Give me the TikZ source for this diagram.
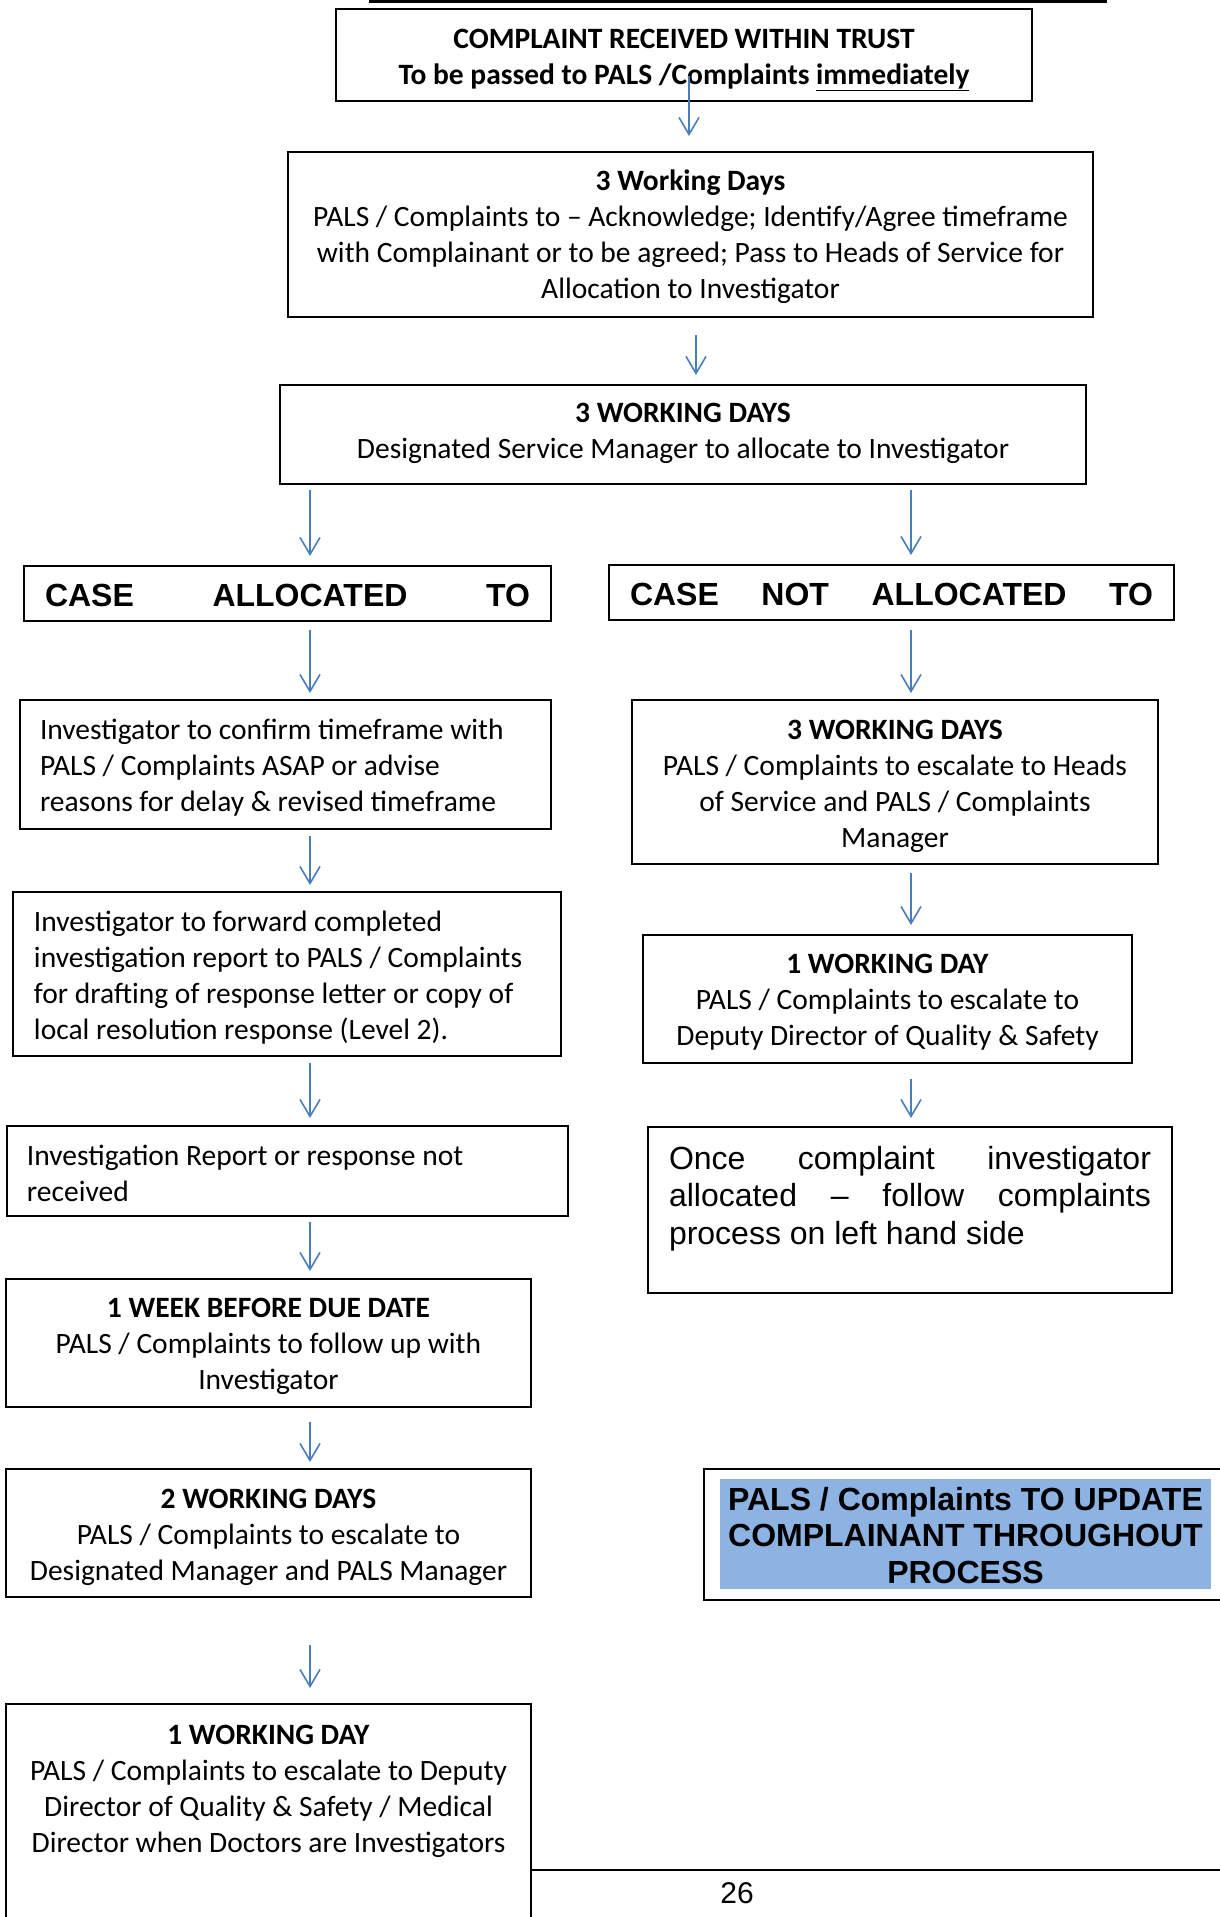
\documentclass[tikz,border=0pt]{standalone}
\usepackage{fontspec}
\setmainfont{Carlito}
\newfontfamily\arialfont{Liberation Sans}
\usetikzlibrary{positioning, calc, arrows.meta}
\newcommand{\calfont}{\fontsize{29.5}{36.3}\selectfont}
\newcommand{\arialbig}{\arialfont\fontsize{32}{36.8}\selectfont}
\definecolor{arrowblue}{HTML}{4A7EBB}
\definecolor{updblue}{HTML}{8DB3E2}
\tikzset{flowtip/.tip={Straight Barb[length=17pt, width=20pt]}}

\begin{document}
\begin{tikzpicture}[
    x=1pt, y=-1pt,
    stage/.style={
        draw, line width=1.6pt, anchor=north west,
        inner ysep=0pt, inner xsep=10pt, outer sep=0pt,
        font=\calfont, align=center,
        execute at begin node={\spaceskip=\fontdimen2\font\relax\xspaceskip=\spaceskip}
    },
    leftstage/.style={stage, inner xsep=20pt, align=left},
    casebox/.style={stage, inner xsep=21pt, font=\arialbig\bfseries, align=left},
    flow/.style={draw=arrowblue, line width=1.6pt, -flowtip}
]
\useasboundingbox (0,0) rectangle (1220,1917);
\clip (0,0) rectangle (1220,1917);

% page rule on top
\draw[line width=4pt] (369,1) -- (1107,1);

% columns for the arrows
\coordinate (colTop) at (689,0);
\coordinate (colMid) at (696,0);
\coordinate (colL) at (310,0);
\coordinate (colR) at (911,0);

% top of the flow
\node[stage, text width=676pt, text height=39pt, text depth=53pt] (recv) at (336,9)
    {\textbf{COMPLAINT RECEIVED WITHIN TRUST}\\\textbf{To be passed to PALS /Complaints \underline{immediately}}};
\node[stage, text width=785pt, text height=38pt, text depth=127pt] (wd3) at (288,152)
    {\textbf{3 Working Days}\\PALS / Complaints to – Acknowledge; Identify/Agree timeframe\\with Complainant or to be agreed; Pass to Heads of Service for\\Allocation to Investigator};
\node[stage, text width=786pt, text height=37pt, text depth=62pt] (dsm) at (280,385)
    {\textbf{3 WORKING DAYS}\\Designated Service Manager to allocate to Investigator};

% allocated / not allocated
\node[casebox, text width=485pt, text height=40.5pt, text depth=14.5pt] (caseL) at (24,566)
    {CASE\hfill ALLOCATED\hfill TO};
\node[casebox, text width=523pt, text height=40.5pt, text depth=14.5pt] (caseR) at (609,565)
    {CASE\hfill NOT\hfill ALLOCATED\hfill TO};

% left hand side
\node[leftstage, text width=491pt, text height=39pt, text depth=90pt] (inv1) at (20,700)
    {Investigator to confirm timeframe with\\PALS / Complaints ASAP or advise\\reasons for delay \& revised timeframe};
\node[leftstage, inner xsep=21pt, text width=506pt, text height=39pt, text depth=125pt] (inv2) at (13,892)
    {Investigator to forward completed\\investigation report to PALS / Complaints\\for drafting of response letter or copy of\\local resolution response (Level 2).};
\node[leftstage, text width=521pt, text height=39pt, text depth=51pt] (noreport) at (7,1126)
    {Investigation Report or response not\\received};
\node[stage, text width=505pt, text height=38pt, text depth=90pt] (week) at (6,1279)
    {\textbf{1 WEEK BEFORE DUE DATE}\\PALS / Complaints to follow up with\\Investigator};
\node[stage, text width=505pt, text height=39pt, text depth=89pt] (wd2) at (6,1469)
    {\textbf{2 WORKING DAYS}\\PALS / Complaints to escalate to\\Designated Manager and PALS Manager};
\node[stage, text width=505pt, text height=40pt, text depth=250pt] (esc3) at (6,1704)
    {\textbf{1 WORKING DAY}\\PALS / Complaints to escalate to Deputy\\Director of Quality \& Safety / Medical\\Director when Doctors are Investigators};

% right hand side
\node[stage, text width=506pt, text height=39pt, text depth=125pt] (esc1) at (632,700)
    {\textbf{3 WORKING DAYS}\\PALS / Complaints to escalate to Heads\\of Service and PALS / Complaints\\Manager};
\node[stage, text width=469pt, text height=38pt, text depth=90pt] (esc2) at (643,935)
    {\textbf{1 WORKING DAY}\\PALS / Complaints to escalate to\\Deputy Director of Quality \& Safety};
\node[stage, inner xsep=21pt, text width=482pt, text height=42pt, text depth=124pt,
      font=\arialfont\fontsize{32}{37.5}\selectfont, align=justify,
      execute at begin node={\spaceskip=0pt\xspaceskip=0pt\relax}] (once) at (648,1127)
    {Once complaint investigator\linebreak allocated – follow complaints\linebreak process on left hand side};

% reminder
\node[draw, line width=1.6pt, anchor=north west, minimum width=540pt, minimum height=131pt] (updframe) at (703,1468) {};
\node[stage, draw=none, fill=updblue, inner xsep=0pt, text width=491pt, text height=31pt, text depth=79pt,
      font=\arialbig\bfseries] (upd) at (720,1479)
    {PALS / Complaints TO UPDATE\\COMPLAINANT THROUGHOUT\\PROCESS};

% arrows
\foreach \from/\to/\col/\s/\e in {recv/wd3/colTop/-25/16, wd3/dsm/colMid/18/10,
    dsm/caseL/colL/6/10, dsm/caseR/colR/6/10,
    caseL/inv1/colL/9/7, inv1/inv2/colL/7/7, inv2/noreport/colL/7/8,
    noreport/week/colL/6/8, week/wd2/colL/15/7, wd2/esc3/colL/48/16,
    caseR/esc1/colR/10/7, esc1/esc2/colR/9/10, esc2/once/colR/16/9}
{
    \draw[flow] ($(\from.south -| \col)+(0,\s)$) -- ($(\to.north -| \col)-(0,\e)$);
}

% footer
\coordinate (footL) at (esc3.north east |- 0,1870);
\draw[line width=2pt] (footL) -- (1220,1870);
\node[font=\arialfont\fontsize{30}{34}\selectfont] (pagenum) at (737,1893) {26};

\end{tikzpicture}
\end{document}
